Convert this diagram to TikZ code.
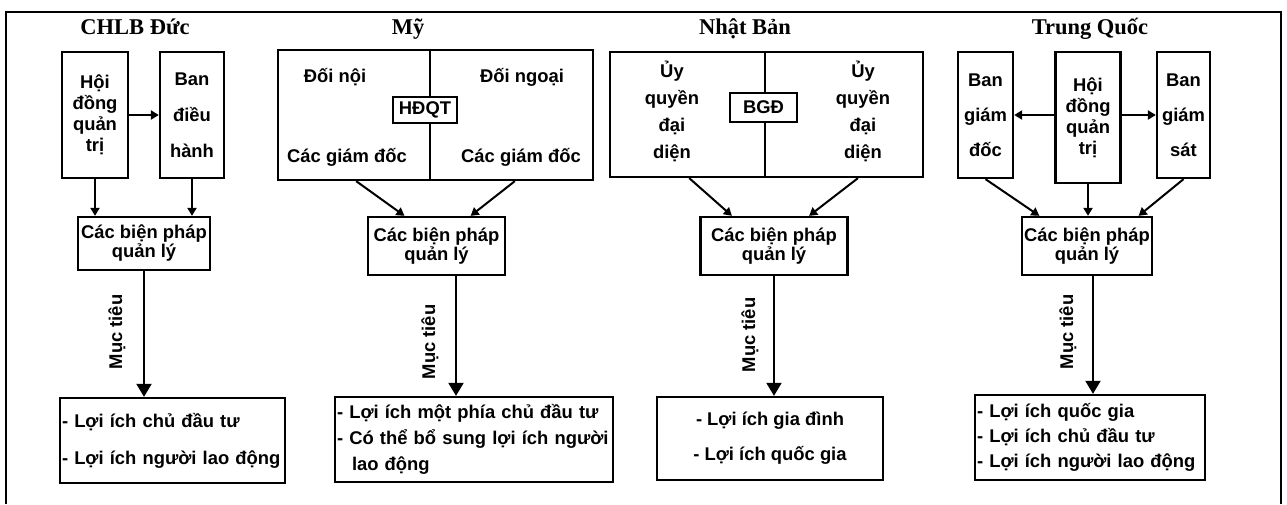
\documentclass[tikz,border=0pt]{standalone}
\usepackage{fontspec}
\setmainfont{Liberation Serif}
\newfontfamily\lbsans{Liberation Sans}
\usetikzlibrary{arrows.meta,calc}
% bold sans body text at a fixed size, with the line spacing as argument
\newcommand\bodyat[1]{\lbsans\bfseries\fontsize{18.4}{#1}\selectfont}

\begin{document}
\begin{tikzpicture}[x=1pt,y=-1pt,
  frame/.style={line width=2.6pt},
  box/.style={draw, line width=2.3pt, inner sep=0pt, align=center, font=\bodyat{21}},
  divider/.style={line width=1.8pt},
  lbl/.style={inner sep=0pt, align=center, font=\bodyat{21}},
  title/.style={inner sep=0pt, anchor=base, font=\bfseries\fontsize{22.5}{26}\selectfont},
  arr/.style={line width=2pt, -{Triangle[length=8pt,width=9pt]}},
  bigarr/.style={line width=2pt, -{Triangle[length=13pt,width=15pt]}}]

\useasboundingbox (0,0) rectangle (1287,504);

% open outer frame
\draw[frame] (6,504) -- (6,12) -- (1281,12) -- (1281,504);

% column titles
\node[title] (t1) at (135,34) {CHLB Đức};
\node[title] (t2) at (408,34) {Mỹ};
\node[title] (t3) at (745,34) {Nhật Bản};
\node[title] (t4) at (1090,34) {Trung Quốc};

% ---------- CHLB Đức ----------
\node[box, minimum width=66pt, minimum height=126pt] (hd1) at (95,115) {Hội\\đồng\\quản\\trị};
\node[box, minimum width=64pt, minimum height=126pt, font=\bodyat{36}] (bd1) at (192,115) {Ban\\điều\\hành};
\draw[arr] (hd1.east) -- (bd1.west);
\node[box, minimum width=132pt, minimum height=53pt, font=\bodyat{19}] (bp1) at (144,243.5) {Các biện pháp\\quản lý};
\draw[arr] (hd1.south) -- (hd1.south |- bp1.north);
\draw[arr] (bd1.south) -- (bd1.south |- bp1.north);
\node[box, text width=221pt, inner xsep=2pt, minimum height=85pt, align=left, font=\bodyat{37}] (kq1) at (172.5,440.5)
  {- Lợi ích chủ đầu tư\\- Lợi ích người lao động};
\draw[bigarr] (bp1.south) -- (bp1.south |- kq1.north);
\node[lbl, rotate=90] (mt1) at (117,332) {Mục tiêu};

% ---------- Mỹ ----------
\node[box, minimum width=315pt, minimum height=130pt] (myb) at (435.5,115) {};
\coordinate (mydiv) at (430,115);
\draw[divider] (mydiv |- myb.north) -- (mydiv |- myb.south);
\node[box, fill=white, minimum width=64pt, minimum height=26pt] (hdqt) at (425,110) {HĐQT};
\node[lbl] (dn2) at (335,77) {Đối nội};
\node[lbl] (dng2) at (522,77) {Đối ngoại};
\node[lbl] (gd2a) at (347,157) {Các giám đốc};
\node[lbl] (gd2b) at (521,157) {Các giám đốc};
\node[box, minimum width=137pt, minimum height=58pt, font=\bodyat{19}] (bp2) at (436.5,246) {Các biện pháp\\quản lý};
\draw[arr] ($(myb.south west)!0.25!(myb.south east)$) -- ($(bp2.north west)!0.27!(bp2.north east)$);
\draw[arr] ($(myb.south west)!0.75!(myb.south east)$) -- ($(bp2.north west)!0.745!(bp2.north east)$);
\node[box, text width=274pt, inner xsep=2pt, minimum height=85pt, align=left, font=\bodyat{26}] (kq2) at (474,439.5)
  {- Lợi ích một phía chủ đầu tư\\- Có thể bổ sung lợi ích người\\\hspace*{15pt}lao động};
\coordinate (a2) at (456,275);
\draw[bigarr] (bp2.south -| a2) -- (a2 |- kq2.north);
\node[lbl, rotate=90] (mt2) at (430,342) {Mục tiêu};

% ---------- Nhật Bản ----------
\node[box, minimum width=313pt, minimum height=125pt] (nbb) at (766.5,114.5) {};
\coordinate (nbdiv) at (765,115);
\draw[divider] (nbdiv |- nbb.north) -- (nbdiv |- nbb.south);
\node[box, fill=white, minimum width=67pt, minimum height=29pt] (bgd3) at (763.5,107.5) {BGĐ};
\node[lbl, font=\bodyat{27}] (uq3a) at (672,111) {Ủy\\quyền\\đại\\diện};
\node[lbl, font=\bodyat{27}] (uq3b) at (863,111) {Ủy\\quyền\\đại\\diện};
\node[box, minimum width=147pt, minimum height=58pt, font=\bodyat{19}] (bp3) at (774,246) {Các biện pháp\\quản lý};
\draw[arr] ($(nbb.south west)!0.255!(nbb.south east)$) -- ($(bp3.north west)!0.218!(bp3.north east)$);
\draw[arr] ($(nbb.south west)!0.79!(nbb.south east)$) -- ($(bp3.north west)!0.735!(bp3.north east)$);
\node[box, minimum width=226pt, minimum height=83pt, font=\bodyat{35}] (kq3) at (770,438.5)
  {- Lợi ích gia đình\\- Lợi ích quốc gia};
\draw[bigarr] (bp3.south) -- (bp3.south |- kq3.north);
\node[lbl, rotate=90] (mt3) at (750,335) {Mục tiêu};

% ---------- Trung Quốc ----------
\node[box, minimum width=55pt, minimum height=126pt, font=\bodyat{35}] (bgd4) at (985.5,115) {Ban\\giám\\đốc};
\node[box, minimum width=65pt, minimum height=131pt] (hd4) at (1088,117.5) {Hội\\đồng\\quản\\trị};
\node[box, minimum width=53pt, minimum height=126pt, font=\bodyat{35}] (bgs4) at (1183.5,115) {Ban\\giám\\sát};
\draw[arr] (hd4.west |- bgd4.east) -- (bgd4.east);
\draw[arr] (hd4.east |- bgs4.west) -- (bgs4.west);
\node[box, minimum width=130pt, minimum height=58pt, font=\bodyat{19}] (bp4) at (1087,246) {Các biện pháp\\quản lý};
\draw[arr] (bgd4.south) -- ($(bp4.north west)!0.14!(bp4.north east)$);
\draw[arr] (hd4.south) -- (hd4.south |- bp4.north);
\draw[arr] (bgs4.south) -- ($(bp4.north west)!0.89!(bp4.north east)$);
\node[box, text width=226pt, inner xsep=2pt, minimum height=85pt, align=left, font=\bodyat{25}] (kq4) at (1090,437.5)
  {- Lợi ích quốc gia\\- Lợi ích chủ đầu tư\\- Lợi ích người lao động};
\coordinate (a4) at (1093,275);
\draw[bigarr] (bp4.south -| a4) -- (a4 |- kq4.north);
\node[lbl, rotate=90] (mt4) at (1068,332) {Mục tiêu};

\end{tikzpicture}
\end{document}
